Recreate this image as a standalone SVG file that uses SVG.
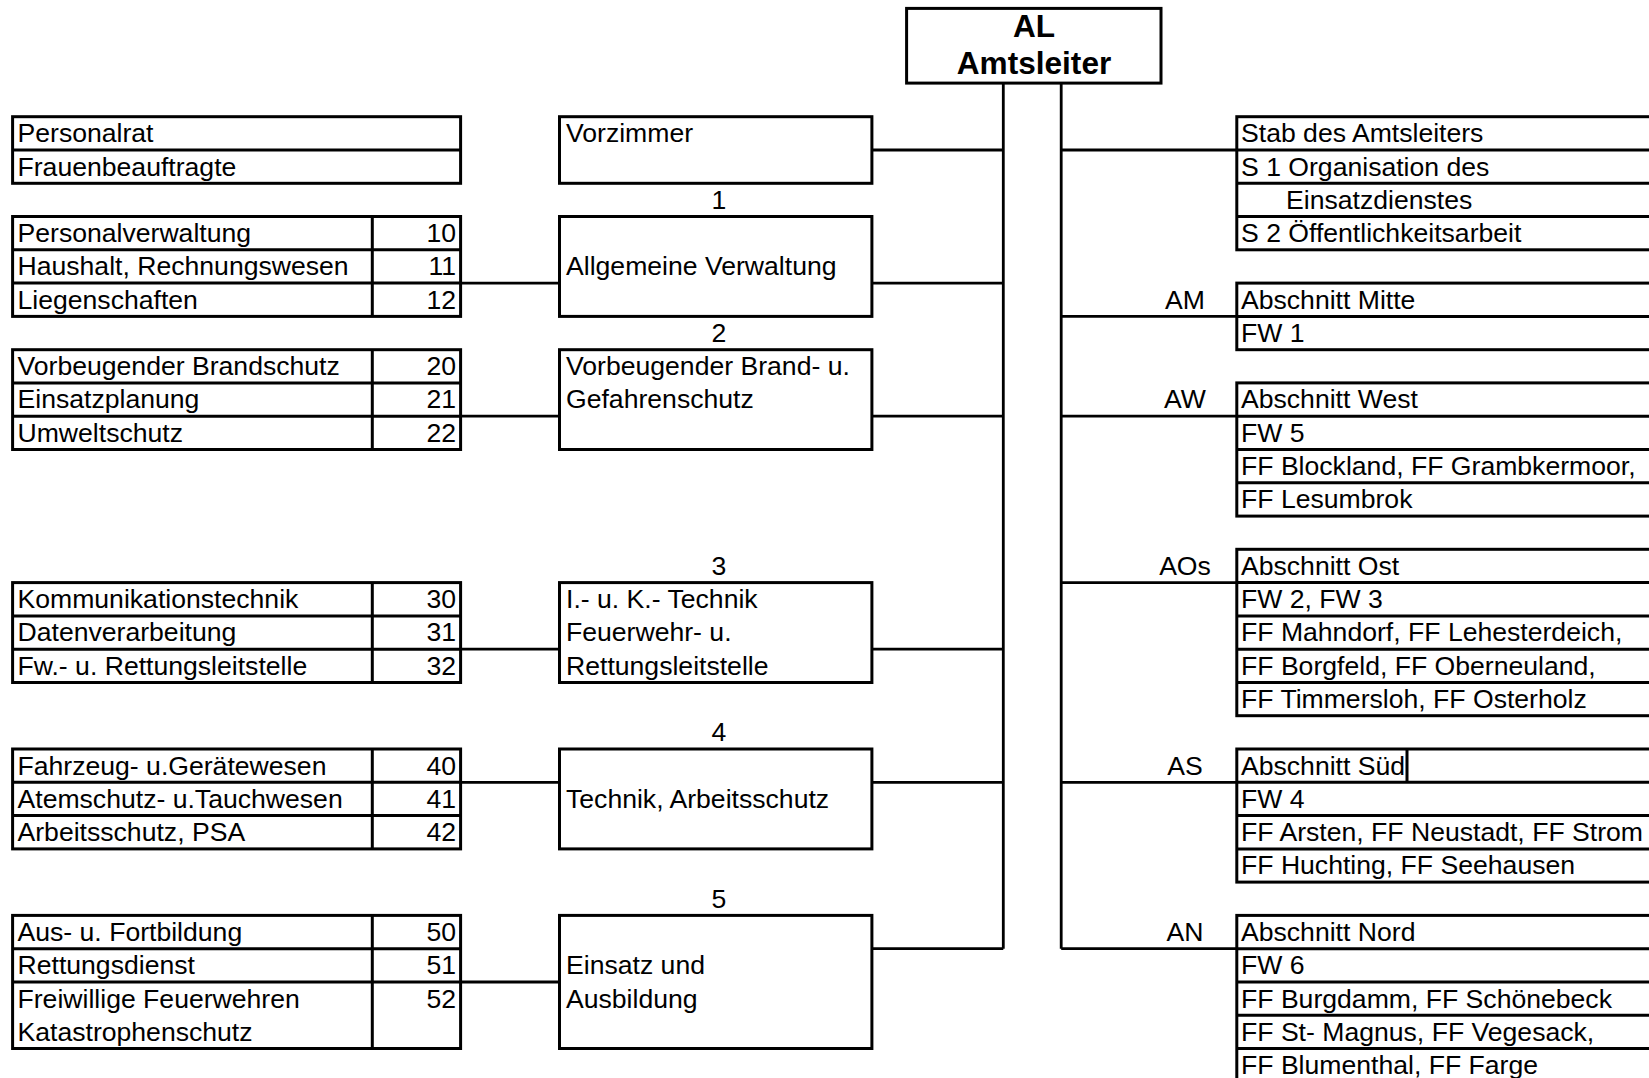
<svg xmlns="http://www.w3.org/2000/svg" width="1649" height="1078" viewBox="0 0 1649 1078">
<style>
.b{fill:none;stroke:#000;stroke-width:3}
.c{fill:none;stroke:#000;stroke-width:2.8}
text{font-family:"Liberation Sans",Arial,sans-serif;font-size:26.6px;fill:#000}
.n{text-anchor:end}
.m{text-anchor:middle}
.h{font-weight:bold;font-size:31.6px;text-anchor:middle}
</style>
<rect width="1649" height="1078" fill="#fff"/>
<g id="connectors">
<path class="c" d="M1003.3 83.1V948.7M1061.2 83.1V948.7"/>
<path class="c" d="M871.9 150H1003.3M871.9 283.1H1003.3M871.9 416.2H1003.3M871.9 649.2H1003.3M871.9 782.3H1003.3M871.9 948.7H1003.3"/>
<path class="c" d="M460.6 283.1H559.5M460.6 416.2H559.5M460.6 649.2H559.5M460.6 782.3H559.5M460.6 982H559.5"/>
<path class="c" d="M1061.2 150H1236.8M1061.2 316.4H1236.8M1061.2 416.2H1236.8M1061.2 582.6H1236.8M1061.2 782.3H1236.8M1061.2 948.7H1236.8"/>
</g>
<g id="al">
<rect class="b" x="906.6" y="8.4" width="254.4" height="74.7"/>
<text class="h" x="1034" y="37">AL</text>
<text class="h" x="1034" y="73.6">Amtsleiter</text>
</g>
<g id="personalrat">
<rect class="b" x="12.6" y="116.7" width="448" height="66.6"/>
<path class="b" d="M12.6 150H460.6"/>
<text x="17.5" y="142.2">Personalrat</text>
<text x="17.5" y="175.5">Frauenbeauftragte</text>
</g>
<g id="t1">
<rect class="b" x="12.6" y="216.5" width="448" height="99.9"/>
<path class="b" d="M12.6 249.8H460.6M12.6 283.1H460.6M372.3 216.5V316.4"/>
<text x="17.5" y="242">Personalverwaltung</text><text class="n" x="456" y="242">10</text>
<text x="17.5" y="275.3">Haushalt, Rechnungswesen</text><text class="n" x="456" y="275.3">11</text>
<text x="17.5" y="308.6">Liegenschaften</text><text class="n" x="456" y="308.6">12</text>
</g>
<g id="t2">
<rect class="b" x="12.6" y="349.7" width="448" height="99.8"/>
<path class="b" d="M12.6 382.9H460.6M12.6 416.2H460.6M372.3 349.7V449.5"/>
<text x="17.5" y="375.2">Vorbeugender Brandschutz</text><text class="n" x="456" y="375.2">20</text>
<text x="17.5" y="408.4">Einsatzplanung</text><text class="n" x="456" y="408.4">21</text>
<text x="17.5" y="441.7">Umweltschutz</text><text class="n" x="456" y="441.7">22</text>
</g>
<g id="t3">
<rect class="b" x="12.6" y="582.6" width="448" height="99.9"/>
<path class="b" d="M12.6 615.9H460.6M12.6 649.2H460.6M372.3 582.6V682.5"/>
<text x="17.5" y="608.1">Kommunikationstechnik</text><text class="n" x="456" y="608.1">30</text>
<text x="17.5" y="641.4">Datenverarbeitung</text><text class="n" x="456" y="641.4">31</text>
<text x="17.5" y="674.7">Fw.- u. Rettungsleitstelle</text><text class="n" x="456" y="674.7">32</text>
</g>
<g id="t4">
<rect class="b" x="12.6" y="749" width="448" height="99.9"/>
<path class="b" d="M12.6 782.3H460.6M12.6 815.6H460.6M372.3 749V848.9"/>
<text x="17.5" y="774.5">Fahrzeug- u.Gerätewesen</text><text class="n" x="456" y="774.5">40</text>
<text x="17.5" y="807.8">Atemschutz- u.Tauchwesen</text><text class="n" x="456" y="807.8">41</text>
<text x="17.5" y="841.1">Arbeitsschutz, PSA</text><text class="n" x="456" y="841.1">42</text>
</g>
<g id="t5">
<rect class="b" x="12.6" y="915.4" width="448" height="133.1"/>
<path class="b" d="M12.6 948.7H460.6M12.6 982H460.6M372.3 915.4V1048.5"/>
<text x="17.5" y="940.9">Aus- u. Fortbildung</text><text class="n" x="456" y="940.9">50</text>
<text x="17.5" y="974.2">Rettungsdienst</text><text class="n" x="456" y="974.2">51</text>
<text x="17.5" y="1007.5">Freiwillige Feuerwehren</text><text class="n" x="456" y="1007.5">52</text>
<text x="17.5" y="1040.8">Katastrophenschutz</text>
</g>
<g id="vorzimmer">
<rect class="b" x="559.5" y="116.7" width="312.4" height="66.6"/>
<text x="566" y="142.2">Vorzimmer</text>
</g>
<g id="b1">
<text class="m" x="719" y="208.8">1</text>
<rect class="b" x="559.5" y="216.5" width="312.4" height="99.9"/>
<text x="566" y="275.3">Allgemeine Verwaltung</text>
</g>
<g id="b2">
<text class="m" x="719" y="342">2</text>
<rect class="b" x="559.5" y="349.7" width="312.4" height="99.8"/>
<text x="566" y="375.2">Vorbeugender Brand- u.</text>
<text x="566" y="408.4">Gefahrenschutz</text>
</g>
<g id="b3">
<text class="m" x="719" y="574.8">3</text>
<rect class="b" x="559.5" y="582.6" width="312.4" height="99.9"/>
<text x="566" y="608.1">I.- u. K.- Technik</text>
<text x="566" y="641.4">Feuerwehr- u.</text>
<text x="566" y="674.7">Rettungsleitstelle</text>
</g>
<g id="b4">
<text class="m" x="719" y="741.2">4</text>
<rect class="b" x="559.5" y="749" width="312.4" height="99.9"/>
<text x="566" y="807.8">Technik, Arbeitsschutz</text>
</g>
<g id="b5">
<text class="m" x="719" y="907.6">5</text>
<rect class="b" x="559.5" y="915.4" width="312.4" height="133.1"/>
<text x="566" y="974.2">Einsatz und</text>
<text x="566" y="1007.5">Ausbildung</text>
</g>
<g id="stab">
<rect class="b" x="1236.8" y="116.7" width="430" height="133.1"/>
<path class="b" d="M1236.8 150H1666.8M1236.8 183.3H1666.8M1236.8 216.5H1666.8"/>
<text x="1241" y="142.2">Stab des Amtsleiters</text>
<text x="1241" y="175.5">S 1 Organisation des</text>
<text x="1286" y="208.8">Einsatzdienstes</text>
<text x="1241" y="242">S 2 Öffentlichkeitsarbeit</text>
</g>
<g id="am">
<text class="m" x="1185" y="308.6">AM</text>
<rect class="b" x="1236.8" y="283.1" width="430" height="66.6"/>
<path class="b" d="M1236.8 316.4H1666.8"/>
<text x="1241" y="308.6">Abschnitt Mitte</text>
<text x="1241" y="341.9">FW 1</text>
</g>
<g id="aw">
<text class="m" x="1185" y="408.4">AW</text>
<rect class="b" x="1236.8" y="382.9" width="430" height="133.2"/>
<path class="b" d="M1236.8 416.2H1666.8M1236.8 449.5H1666.8M1236.8 482.8H1666.8"/>
<text x="1241" y="408.4">Abschnitt West</text>
<text x="1241" y="441.7">FW 5</text>
<text x="1241" y="475">FF Blockland, FF Grambkermoor,</text>
<text x="1241" y="508.3">FF Lesumbrok</text>
</g>
<g id="aos">
<text class="m" x="1185" y="574.8">AOs</text>
<rect class="b" x="1236.8" y="549.3" width="430" height="166.4"/>
<path class="b" d="M1236.8 582.6H1666.8M1236.8 615.9H1666.8M1236.8 649.2H1666.8M1236.8 682.5H1666.8"/>
<text x="1241" y="574.8">Abschnitt Ost</text>
<text x="1241" y="608.1">FW 2, FW 3</text>
<text x="1241" y="641.4">FF Mahndorf, FF Lehesterdeich,</text>
<text x="1241" y="674.7">FF Borgfeld, FF Oberneuland,</text>
<text x="1241" y="708">FF Timmersloh, FF Osterholz</text>
</g>
<g id="as">
<text class="m" x="1185" y="774.5">AS</text>
<rect class="b" x="1236.8" y="749" width="430" height="133.1"/>
<path class="b" d="M1236.8 782.3H1666.8M1236.8 815.6H1666.8M1236.8 848.9H1666.8M1407 749V782.3"/>
<text x="1241" y="774.5">Abschnitt Süd</text>
<text x="1241" y="807.8">FW 4</text>
<text x="1241" y="841.1">FF Arsten, FF Neustadt, FF Strom</text>
<text x="1241" y="874.4">FF Huchting, FF Seehausen</text>
</g>
<g id="an">
<text class="m" x="1185" y="940.9">AN</text>
<rect class="b" x="1236.8" y="915.4" width="430" height="166.4"/>
<path class="b" d="M1236.8 948.7H1666.8M1236.8 982H1666.8M1236.8 1015.3H1666.8M1236.8 1048.5H1666.8"/>
<text x="1241" y="940.9">Abschnitt Nord</text>
<text x="1241" y="974.2">FW 6</text>
<text x="1241" y="1007.5">FF Burgdamm, FF Schönebeck</text>
<text x="1241" y="1040.8">FF St- Magnus, FF Vegesack,</text>
<text x="1241" y="1074">FF Blumenthal, FF Farge</text>
</g>
</svg>
